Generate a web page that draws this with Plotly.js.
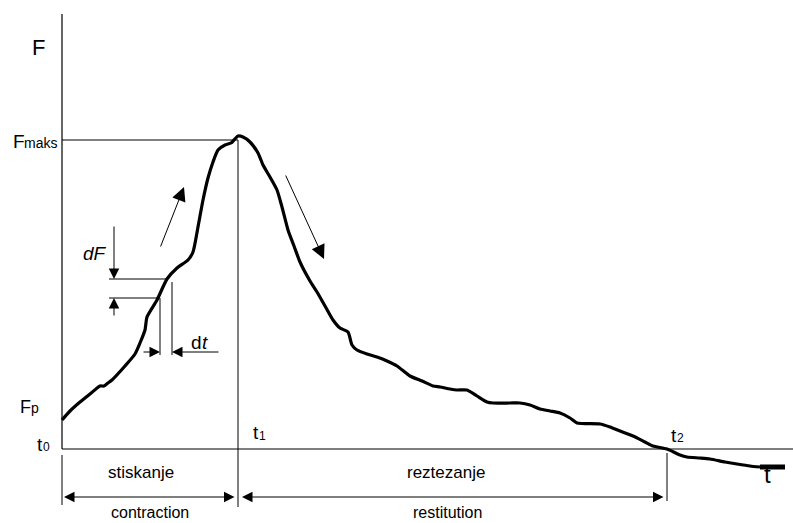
<!DOCTYPE html>
<html><head><meta charset="utf-8">
<script src="https://cdn.plot.ly/plotly-3.0.1.min.js"></script>
<style>html,body{margin:0;padding:0;background:#fff}</style>
</head><body><div id="chart" style="width:793px;height:523px"></div>
<script>
// Force-time curve (t: time units, F: force units), origin at t0 / baseline
const curveT = [0,8,18,28,38,42,46,50,63,73,78,83,85,95,105,115,126,131,136,141,146,151,156,163,169,172,176,181,188,196,201,208,215,220,226,232,238,248,255,263,271,278,286,290,295,305,315,325,335,348,360,371,378,388,395,405,415,425,431,448,458,468,478,488,498,508,515,538,548,558,571,583,591,605,618,625,638,648,663,675,688,698];
const curveF = [29,38,47,55,63,63,66,69,83,95,106,119,132,149,170,181,189,197,222,249,271,287,299,304,306,309,313,312,307,296,284,272,259,242,219,203,187,168,157,143,129,121,117,104,99,95,92,88,83,73,68,63,62,60,59,59,53,47,46,46,46,44,40,38,36,31,26,25,22,18,13,7,3,0,-6,-8,-9,-10,-13,-15,-17,-18];
const tailT = [698,723];
const tailF = [-18,-18];
const tMax = 176, FMax = 309, t2 = 605;
const axisLabel = "F", timeLabel = "t";
const phaseTop = ["stiskanje", "reztezanje"];
const phaseBottom = ["contraction", "restitution"];
const subs = ["0", "1", "2", "maks", "p"];

const traces = [
  {x:curveT, y:curveF, mode:'lines', line:{color:'#000', width:3.2, shape:'spline', smoothing:0.6}, hoverinfo:'skip'},
  {x:tailT, y:tailF, mode:'lines', line:{color:'#000', width:5}, hoverinfo:'skip'}
];
const L = (x0,y0,x1,y1,w) => ({type:'line', xref:'x', yref:'y', x0, y0, x1, y1, line:{color:'#000', width:w||1}});
const shapes = [
  L(0,0,0,435,1.2), L(0,0,731,0,1), L(0,FMax,tMax,FMax,1), L(tMax,FMax,tMax,-58,1),
  L(0,-6,0,-56,1), L(t2,-4,t2,-52,1),
  L(47,170,105,170), L(47,151,98,151), L(98,151,98,94), L(110,167,110,94)
];
const fam = 'Liberation Sans, Arial, sans-serif';
const T = (x,y,text,size,xa,style) => ({x,y,text,showarrow:false,xanchor:xa||'center',yanchor:'middle',
  font:{size, family:fam, color:'#000', style:style||'normal'}});
const A = (x,y,ax,ay,both,hs) => ({x,y,ax,ay,axref:'x',ayref:'y',text:'',showarrow:true,arrowhead:2,arrowsize:hs,arrowwidth:1,arrowcolor:'#000',arrowside:both?'end+start':'end',startarrowhead:2,startarrowsize:hs});
const annotations = [
  T(-24,402,axisLabel,22),
  T(-51,308,"F",19,'left'), T(-40,306,subs[3],14,'left'),
  T(-44,42,"F",18,'left'), T(-33,41,subs[4],14,'left'),
  T(-27,5,timeLabel,19,'left'), T(-21,2,subs[0],12,'left'),
  T(189,17,timeLabel,19,'left'), T(195,13,subs[1],12,'left'),
  T(607,14,timeLabel,19,'left'), T(613,11,subs[2],12,'left'),
  T(705,-25,timeLabel,24),
  T(79,-23,phaseTop[0],17), T(88,-63,phaseBottom[0],16), T(384,-23,phaseTop[1],17), T(385,-63,phaseBottom[1],16),
  T(33,196,"dF",19,'center','italic'),
  T(127,107,"d",19,'left'), T(138,107,"t",19,'left','italic'),
  A(2,-48,174,-48,true,2.1), A(180,-48,603,-48,true,2.1),
  A(52,170,52,224,false,2.1), A(52,151,52,132,false,2.1),
  A(98,97,80,97,false,2.1), A(110,97,158,97,false,2.1),
  A(122,262,98,201,false,2.8), A(262,190,223,275,false,2.8)
];
const layout = {width:793, height:523, margin:{l:0,r:0,t:0,b:0}, paper_bgcolor:'#fff', plot_bgcolor:'#fff', showlegend:false,
  xaxis:{range:[-62,731], visible:false, fixedrange:true}, yaxis:{range:[-74,449], visible:false, fixedrange:true},
  shapes, annotations};
Plotly.newPlot('chart', traces, layout, {staticPlot:true});
</script></body></html>
